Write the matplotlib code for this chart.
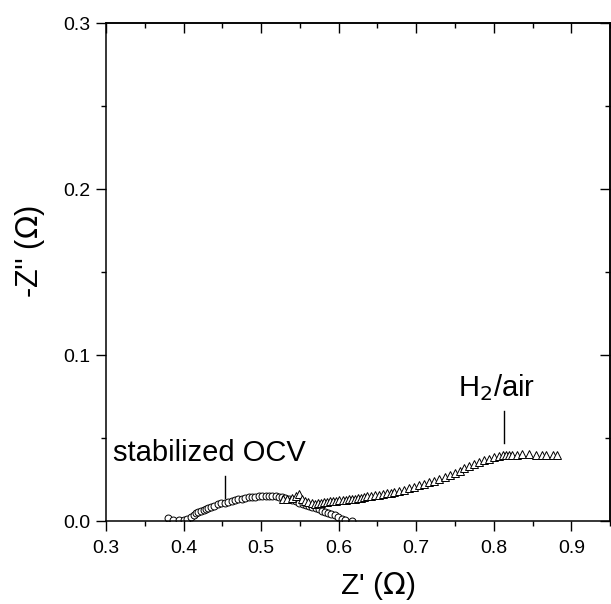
import matplotlib
matplotlib.use("Agg")
import matplotlib.pyplot as plt
from matplotlib.ticker import MultipleLocator, FormatStrFormatter

plt.rcParams["font.family"] = ["Liberation Sans", "DejaVu Sans"]

# -----------------------------------
# Data
# -----------------------------------
# stabilized OCV (open circles)
ocv_zr = [0.380, 0.387, 0.394, 0.400, 0.405, 0.409, 0.413, 0.416, 0.419, 0.422,
          0.426, 0.429, 0.432, 0.435, 0.439, 0.444, 0.448, 0.453, 0.457, 0.462,
          0.466, 0.470, 0.475, 0.479, 0.484, 0.488, 0.492, 0.497, 0.501, 0.506,
          0.510, 0.514, 0.519, 0.523, 0.527, 0.531, 0.536, 0.540, 0.545, 0.549,
          0.554, 0.558, 0.562, 0.566, 0.571, 0.575, 0.579, 0.582, 0.586, 0.590,
          0.595, 0.599, 0.604, 0.608, 0.617]
ocv_zi = [0.0020, 0.0008, 0.0004, 0.0006, 0.0012, 0.0025, 0.0035, 0.0048, 0.0055, 0.0062,
          0.0068, 0.0073, 0.0080, 0.0086, 0.0093, 0.0100, 0.0106, 0.0111, 0.0116, 0.0121,
          0.0125, 0.0130, 0.0134, 0.0138, 0.0142, 0.0145, 0.0147, 0.0149, 0.0150, 0.0150,
          0.0150, 0.0149, 0.0148, 0.0146, 0.0142, 0.0137, 0.0132, 0.0127, 0.0119, 0.0111,
          0.0104, 0.0098, 0.0092, 0.0086, 0.0078, 0.0070, 0.0062, 0.0057, 0.0051, 0.0045,
          0.0034, 0.0024, 0.0014, 0.0008, 0.0002]

# H2/air (open triangles)
air_zr = [0.528, 0.534, 0.540, 0.545, 0.549, 0.553, 0.557, 0.561, 0.565, 0.569,
          0.573, 0.577, 0.581, 0.585, 0.589, 0.593, 0.597, 0.601, 0.605, 0.609,
          0.613, 0.617, 0.621, 0.625, 0.629, 0.633, 0.637, 0.642, 0.647, 0.652,
          0.657, 0.662, 0.667, 0.672, 0.678, 0.684, 0.691, 0.697, 0.704, 0.710,
          0.717, 0.723, 0.730, 0.737, 0.743, 0.750, 0.756, 0.762, 0.768, 0.775,
          0.781, 0.788, 0.794, 0.800, 0.807, 0.812, 0.816, 0.820, 0.824, 0.830,
          0.837, 0.845, 0.855, 0.862, 0.868, 0.876, 0.882]
air_zi = [0.0135, 0.0130, 0.0138, 0.0150, 0.0165, 0.0135, 0.0120, 0.0112, 0.0108, 0.0105,
          0.0108, 0.0110, 0.0112, 0.0115, 0.0118, 0.0120, 0.0122, 0.0124, 0.0126, 0.0128,
          0.0130, 0.0132, 0.0135, 0.0138, 0.0141, 0.0145, 0.0148, 0.0151, 0.0155, 0.0159,
          0.0163, 0.0167, 0.0170, 0.0175, 0.0182, 0.0189, 0.0197, 0.0204, 0.0214, 0.0222,
          0.0233, 0.0242, 0.0253, 0.0265, 0.0276, 0.0290, 0.0304, 0.0318, 0.0331, 0.0343,
          0.0354, 0.0366, 0.0376, 0.0384, 0.0391, 0.0395, 0.0397, 0.0399, 0.0400, 0.0400,
          0.0401, 0.0401, 0.0400, 0.0399, 0.0398, 0.0398, 0.0400]

x_ticks = [0.3, 0.4, 0.5, 0.6, 0.7, 0.8, 0.9]
y_ticks = [0.0, 0.1, 0.2, 0.3]

# -----------------------------------
# Plot
# -----------------------------------
fig = plt.figure(figsize=(6.11, 6.04), dpi=100)
ax = fig.add_axes([0.1735, 0.1374, 0.825, 0.8245])

ax.plot(ocv_zr, ocv_zi, linestyle="none", marker="o", markersize=5,
        markerfacecolor="white", markeredgecolor="black", markeredgewidth=0.7)
ax.plot(air_zr, air_zi, linestyle="none", marker="^", markersize=5.5,
        markerfacecolor="white", markeredgecolor="black", markeredgewidth=0.7)

# labels with pointer lines
ax.text(0.309, 0.041, "stabilized OCV", fontsize=21, ha="left", va="center")
ax.plot([0.453, 0.453], [0.014, 0.027], color="black", linewidth=1.0)
ax.text(0.754, 0.075, "H$_2$/air", fontsize=21, ha="left", va="baseline")
ax.plot([0.813, 0.813], [0.047, 0.066], color="black", linewidth=1.0)

ax.set_xlim(0.3, 0.95)
ax.set_ylim(0.0, 0.3)
ax.set_xticks(x_ticks)
ax.set_yticks(y_ticks)
ax.xaxis.set_minor_locator(MultipleLocator(0.05))
ax.yaxis.set_minor_locator(MultipleLocator(0.05))
ax.xaxis.set_major_formatter(FormatStrFormatter("%.1f"))
ax.yaxis.set_major_formatter(FormatStrFormatter("%.1f"))

for sp in ax.spines.values():
    sp.set_linewidth(1.1)

ax.tick_params(which="both", direction="out", top=False, right=False,
               width=1.0, labelsize=14)
ax.tick_params(which="major", length=7.5)
ax.tick_params(which="minor", length=3.8)
ax.tick_params(axis="x", pad=6)
ax.tick_params(axis="y", pad=4)

# inward ticks on the top and right frame
ax_top = ax.secondary_xaxis("top")
ax_top.set_xticks(x_ticks)
ax_top.xaxis.set_minor_locator(MultipleLocator(0.05))
ax_top.tick_params(which="both", direction="in", labeltop=False, width=1.0)
ax_top.tick_params(which="major", length=7.5)
ax_top.tick_params(which="minor", length=3.8)
ax_top.spines["top"].set_linewidth(1.1)
ax_right = ax.secondary_yaxis("right")
ax_right.set_yticks(y_ticks)
ax_right.yaxis.set_minor_locator(MultipleLocator(0.05))
ax_right.tick_params(which="both", direction="in", labelright=False, width=1.0)
ax_right.tick_params(which="major", length=7.5)
ax_right.tick_params(which="minor", length=3.8)
ax_right.spines["right"].set_linewidth(1.1)

ax.text(0.538, -0.131, "Z' ($\\Omega$)", transform=ax.transAxes,
        fontsize=21.5, ha="center", va="center")
ax.text(-0.151, 0.541, "-Z'' ($\\Omega$)", transform=ax.transAxes,
        fontsize=22, ha="center", va="center", rotation=90)

fig.savefig("out.png", dpi=100)
